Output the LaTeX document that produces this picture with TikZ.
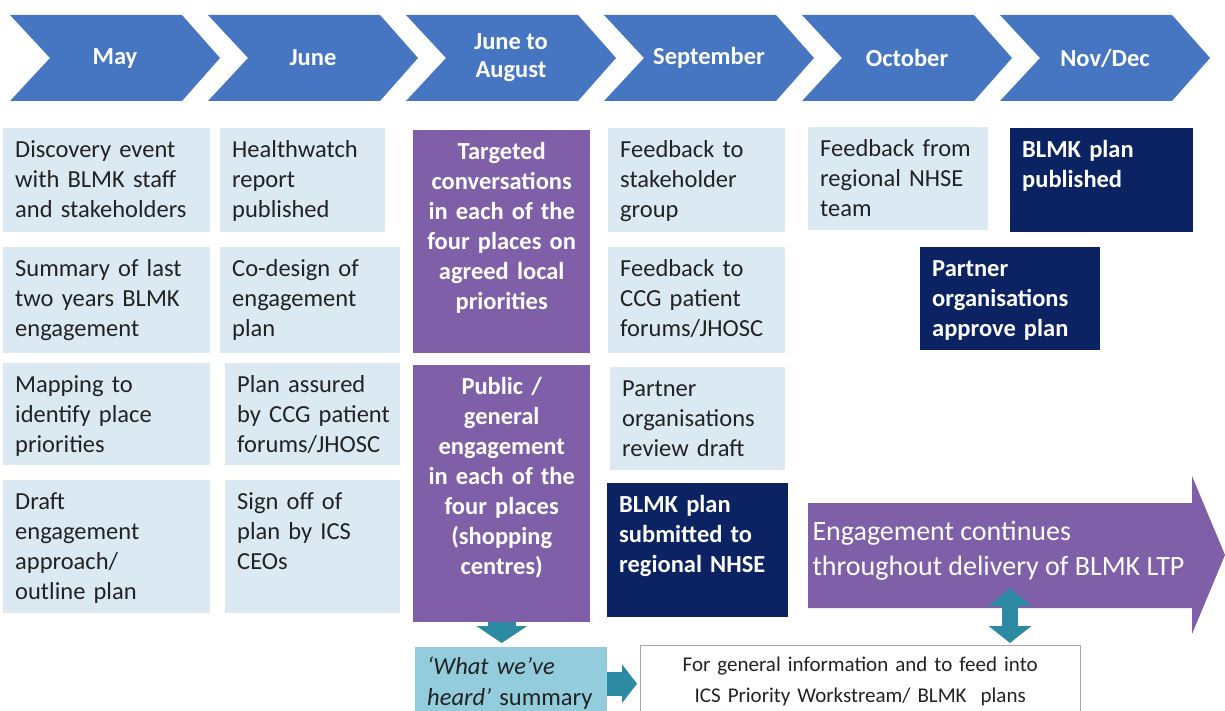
\documentclass[tikz,border=0pt]{standalone}
\usepackage{fontspec}
\setmainfont{Carlito}
\usepackage{tikz}
\usetikzlibrary{positioning,arrows.meta,calc}
\definecolor{monthblue}{HTML}{4676C2}
\definecolor{paleblue}{HTML}{DAE9F2}
\definecolor{plum}{HTML}{7F60A8}
\definecolor{deepnavy}{HTML}{0B2263}
\definecolor{pipeteal}{HTML}{2C8AA3}
\definecolor{lightteal}{HTML}{93CDDD}
\definecolor{inkdark}{HTML}{222222}
\definecolor{rulegray}{HTML}{A6A6A6}
\hyphenpenalty=10000
\hbadness=10000
\hfuzz=20pt

\begin{document}
\begin{tikzpicture}[x=1pt, y=-1pt,
  month/.style={fill=monthblue},
  mlab/.style={text=white, align=center,
               font=\bfseries\fontsize{24.5}{28}\selectfont},
  cell/.style={anchor=north west, inner xsep=12pt, inner ysep=6pt,
               text height=23pt, align=left, text=inkdark,
               font=\fontsize{24.5}{30}\selectfont},
  pale/.style={cell, fill=paleblue},
  talk/.style={cell, fill=plum, text=white, align=center,
               font=\bfseries\fontsize{24.5}{30}\selectfont},
  done/.style={cell, fill=deepnavy, text=white,
               font=\bfseries\fontsize{24.5}{30}\selectfont},
  pipe/.style={draw=pipeteal}]
\clip (0,0) rectangle (1225,711);
% month chevrons
\foreach \i/\t in {0/May, 1/June, 2/{June to\\August}, 3/September, 4/October, 5/Nov\slash Dec} {
  \fill[month] ({10+198*\i},15) -- ++(172,0) -- ++(38,43) -- ++(-38,43)
    -- ++(-172,0) -- ++(40,-43) -- cycle;
  \node[mlab] (mon\i) at ({115+198*\i},58) {\t};
}
% May
\node[pale, text width=183pt, text depth=69pt] (may1) at (3,128) {Discovery event\\with BLMK staff\\and stakeholders};
\node[pale, text width=183pt, text depth=71pt] (may2) at (3,247) {Summary of last\\two years BLMK\\engagement};
\node[pale, text width=183pt, text depth=67pt] (may3) at (3,363) {Mapping to\\identify place\\priorities};
\node[pale, text width=183pt, text depth=98pt] (may4) at (3,480) {Draft\\engagement\\approach/\\outline plan};
% June
\node[pale, text width=141pt, text depth=69pt] (jun1) at (220,128) {Healthwatch\\report\\published};
\node[pale, text width=156pt, text depth=71pt] (jun2) at (220,247) {Co-design of\\engagement\\plan};
\node[pale, text width=151pt, text depth=67pt] (jun3) at (225,363) {Plan assured\\by~CCG~patient\\forums/JHOSC};
\node[pale, text width=151pt, text depth=98pt] (jun4) at (225,480) {Sign off of\\plan by ICS\\CEOs};
% June to August
\node[talk, text width=153pt, text depth=188pt] (aug1) at (413,130) {Targeted\\conversations\\in each of the\\four places on\\agreed local\\priorities};
\node[talk, text width=153pt, text depth=222pt] (aug2) at (413,365) {Public /\\general\\engagement\\in each of the\\four places\\(shopping\\centres)};
% September
\node[pale, text width=153pt, text depth=69pt] (sep1) at (608,128) {Feedback to\\stakeholder\\group};
\node[pale, text width=153pt, text depth=71pt] (sep2) at (608,247) {Feedback to\\CCG patient\\forums/JHOSC};
\node[pale, text width=151pt, text depth=68pt] (sep3) at (610,367) {Partner\\organisations\\review draft};
\node[done, text width=157pt, text depth=99pt] (sep4) at (607,483) {BLMK plan\\submitted to\\regional NHSE};
% October, Nov/Dec
\node[pale, text width=156pt, text depth=68pt] (oct1) at (808,127) {Feedback~from\\regional NHSE\\team};
\node[done, text width=159pt, text depth=69pt] (nov1) at (1010,128) {BLMK plan\\published};
\node[done, text width=156pt, text depth=68pt] (nov2) at (920,247) {Partner\\organisations\\approve plan};
% ongoing engagement
\fill[plum] (808,503) -- (1192,503) -- (1192,476) -- (1225,555) -- (1192,634)
  -- (1192,608) -- (808,608) -- cycle;
\node[text=white, anchor=west, align=left, font=\fontsize{28}{35}\selectfont]
  (ongoing) at (809,551) {Engagement continues\\throughout delivery of BLMK LTP};
% summary and outputs
\node[cell, fill=lightteal, text width=168pt, text height=21pt, text depth=40pt,
  font=\fontsize{24.5}{31}\selectfont] (heard) at (415,647)
  {\itshape ‘What we’ve\\heard’ \upshape summary};
\node[cell, fill=white, draw=rulegray, align=center, text width=416pt,
  text height=20pt, text depth=43pt, font=\fontsize{21}{31}\selectfont] (info) at (640,645)
  {For general information and to feed into\\ICS Priority Workstream/ BLMK~ plans};
\coordinate (tap) at (1010,588);
\draw[pipe, line width=16pt, {Triangle[width=42pt,length=18pt]}-{Triangle[width=42pt,length=17pt]},
  shorten >=2pt] (tap) -- (tap |- info.north);
\draw[pipe, line width=28pt, -{Triangle[width=50pt,length=17pt]}, shorten >=4pt]
  (aug2.south) -- (aug2.south |- heard.north);
\draw[pipe, line width=24pt, -{Triangle[width=38pt,length=15pt]}, shorten >=3pt]
  (heard.east) -- (heard.east -| info.west);
\end{tikzpicture}
\end{document}
